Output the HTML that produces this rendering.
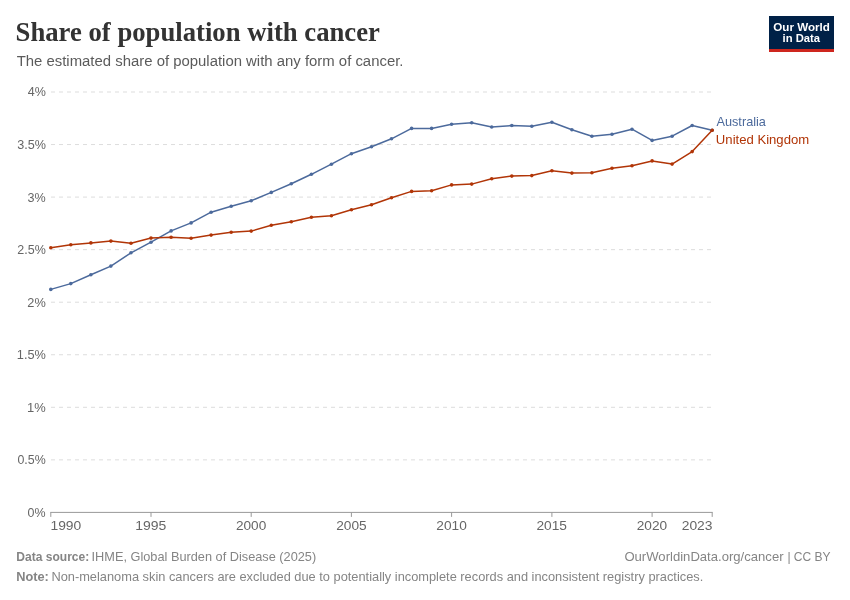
<!DOCTYPE html>
<html lang="en">
<head>
<meta charset="utf-8">
<title>Share of population with cancer</title>
<style>
html,body{margin:0;padding:0;background:#fff;}
body{width:850px;height:600px;overflow:hidden;}
svg{display:block;font-family:"Liberation Sans",Arial,sans-serif;}
.title{font-family:"Liberation Serif","Times New Roman",serif;font-weight:bold;}
</style>
</head>
<body>
<svg width="850" height="600" viewBox="0 0 850 600">
<rect width="850" height="600" fill="#fff"/>
<text id="title" class="title" x="15.59" y="40.6" font-size="27.5" fill="#333" textLength="364.31" lengthAdjust="spacingAndGlyphs">Share of population with cancer</text>
<text id="sub" x="16.67" y="66.4" font-size="14" fill="#5b5b5b" textLength="386.81" lengthAdjust="spacingAndGlyphs">The estimated share of population with any form of cancer.</text>
<rect x="769" y="16" width="65" height="33" fill="#002147"/><rect x="769" y="49" width="65" height="3" fill="#ce261e"/>
<text id="logo1" font-weight="bold" x="773.28" y="30.6" font-size="10.6" fill="#fff" textLength="56.60" lengthAdjust="spacingAndGlyphs">Our World</text>
<text id="logo2" font-weight="bold" x="782.56" y="42.3" font-size="10.6" fill="#fff" textLength="37.56" lengthAdjust="spacingAndGlyphs">in Data</text>
<g stroke="#ddd" stroke-width="1" stroke-dasharray="4,4"><line x1="51" y1="459.85" x2="712.2" y2="459.85"/><line x1="51" y1="407.30" x2="712.2" y2="407.30"/><line x1="51" y1="354.75" x2="712.2" y2="354.75"/><line x1="51" y1="302.20" x2="712.2" y2="302.20"/><line x1="51" y1="249.65" x2="712.2" y2="249.65"/><line x1="51" y1="197.10" x2="712.2" y2="197.10"/><line x1="51" y1="144.55" x2="712.2" y2="144.55"/><line x1="51" y1="92.00" x2="712.2" y2="92.00"/></g>
<text id="y0" x="27.62" y="516.8" font-size="12.2" fill="#666" textLength="18.00" lengthAdjust="spacingAndGlyphs">0%</text>
<text id="y1" x="17.44" y="464.2" font-size="12.2" fill="#666" textLength="28.23" lengthAdjust="spacingAndGlyphs">0.5%</text>
<text id="y2" x="27.11" y="411.7" font-size="12.2" fill="#666" textLength="18.71" lengthAdjust="spacingAndGlyphs">1%</text>
<text id="y3" x="16.81" y="359.1" font-size="12.2" fill="#666" textLength="29.08" lengthAdjust="spacingAndGlyphs">1.5%</text>
<text id="y4" x="27.32" y="306.6" font-size="12.2" fill="#666" textLength="18.46" lengthAdjust="spacingAndGlyphs">2%</text>
<text id="y5" x="17.34" y="254.0" font-size="12.2" fill="#666" textLength="28.48" lengthAdjust="spacingAndGlyphs">2.5%</text>
<text id="y6" x="27.41" y="201.5" font-size="12.2" fill="#666" textLength="18.19" lengthAdjust="spacingAndGlyphs">3%</text>
<text id="y7" x="17.18" y="149.0" font-size="12.2" fill="#666" textLength="28.73" lengthAdjust="spacingAndGlyphs">3.5%</text>
<text id="y8" x="27.75" y="96.4" font-size="12.2" fill="#666" textLength="18.13" lengthAdjust="spacingAndGlyphs">4%</text>
<g stroke="#999" stroke-width="1" fill="none"><line x1="50.3" y1="512.4" x2="712.7" y2="512.4"/><line x1="50.8" y1="512.4" x2="50.8" y2="516.9"/><line x1="151.0" y1="512.4" x2="151.0" y2="516.9"/><line x1="251.2" y1="512.4" x2="251.2" y2="516.9"/><line x1="351.4" y1="512.4" x2="351.4" y2="516.9"/><line x1="451.6" y1="512.4" x2="451.6" y2="516.9"/><line x1="551.9" y1="512.4" x2="551.9" y2="516.9"/><line x1="652.1" y1="512.4" x2="652.1" y2="516.9"/><line x1="712.2" y1="512.4" x2="712.2" y2="516.9"/></g>
<text id="x1990" x="50.48" y="530.4" font-size="12.2" fill="#666" textLength="30.80" lengthAdjust="spacingAndGlyphs">1990</text>
<text id="x1995" x="135.30" y="530.4" font-size="12.2" fill="#666" textLength="31.09" lengthAdjust="spacingAndGlyphs">1995</text>
<text id="x2000" x="235.94" y="530.4" font-size="12.2" fill="#666" textLength="30.30" lengthAdjust="spacingAndGlyphs">2000</text>
<text id="x2005" x="336.21" y="530.4" font-size="12.2" fill="#666" textLength="30.45" lengthAdjust="spacingAndGlyphs">2005</text>
<text id="x2010" x="436.33" y="530.4" font-size="12.2" fill="#666" textLength="30.47" lengthAdjust="spacingAndGlyphs">2010</text>
<text id="x2015" x="536.49" y="530.4" font-size="12.2" fill="#666" textLength="30.53" lengthAdjust="spacingAndGlyphs">2015</text>
<text id="x2020" x="636.73" y="530.4" font-size="12.2" fill="#666" textLength="30.47" lengthAdjust="spacingAndGlyphs">2020</text>
<text id="x2023" x="681.69" y="530.4" font-size="12.2" fill="#666" textLength="30.80" lengthAdjust="spacingAndGlyphs">2023</text>
<polyline points="50.8,289.4 70.8,283.6 90.9,274.8 110.9,266.1 131.0,252.8 151.0,242.2 171.1,230.9 191.1,222.9 211.1,212.2 231.2,206.2 251.2,200.8 271.3,192.4 291.3,183.7 311.4,174.3 331.4,164.2 351.4,153.7 371.5,146.7 391.5,138.8 411.6,128.4 431.6,128.4 451.6,124.2 471.7,122.8 491.7,127.0 511.8,125.5 531.8,126.2 551.9,122.3 571.9,129.7 591.9,136.2 612.0,134.2 632.0,129.2 652.1,140.4 672.1,136.2 692.2,125.5 712.2,130.2" fill="none" stroke="#4C6A9C" stroke-width="1.5" stroke-linejoin="round" stroke-linecap="round"/>
<g fill="#4C6A9C"><circle cx="50.8" cy="289.4" r="1.8"/><circle cx="70.8" cy="283.6" r="1.8"/><circle cx="90.9" cy="274.8" r="1.8"/><circle cx="110.9" cy="266.1" r="1.8"/><circle cx="131.0" cy="252.8" r="1.8"/><circle cx="151.0" cy="242.2" r="1.8"/><circle cx="171.1" cy="230.9" r="1.8"/><circle cx="191.1" cy="222.9" r="1.8"/><circle cx="211.1" cy="212.2" r="1.8"/><circle cx="231.2" cy="206.2" r="1.8"/><circle cx="251.2" cy="200.8" r="1.8"/><circle cx="271.3" cy="192.4" r="1.8"/><circle cx="291.3" cy="183.7" r="1.8"/><circle cx="311.4" cy="174.3" r="1.8"/><circle cx="331.4" cy="164.2" r="1.8"/><circle cx="351.4" cy="153.7" r="1.8"/><circle cx="371.5" cy="146.7" r="1.8"/><circle cx="391.5" cy="138.8" r="1.8"/><circle cx="411.6" cy="128.4" r="1.8"/><circle cx="431.6" cy="128.4" r="1.8"/><circle cx="451.6" cy="124.2" r="1.8"/><circle cx="471.7" cy="122.8" r="1.8"/><circle cx="491.7" cy="127.0" r="1.8"/><circle cx="511.8" cy="125.5" r="1.8"/><circle cx="531.8" cy="126.2" r="1.8"/><circle cx="551.9" cy="122.3" r="1.8"/><circle cx="571.9" cy="129.7" r="1.8"/><circle cx="591.9" cy="136.2" r="1.8"/><circle cx="612.0" cy="134.2" r="1.8"/><circle cx="632.0" cy="129.2" r="1.8"/><circle cx="652.1" cy="140.4" r="1.8"/><circle cx="672.1" cy="136.2" r="1.8"/><circle cx="692.2" cy="125.5" r="1.8"/><circle cx="712.2" cy="130.2" r="1.8"/></g>
<polyline points="50.8,247.8 70.8,244.7 90.9,242.9 110.9,241.1 131.0,243.2 151.0,238.1 171.1,237.3 191.1,238.3 211.1,235.1 231.2,232.2 251.2,231.1 271.3,225.2 291.3,221.7 311.4,217.2 331.4,215.8 351.4,209.8 371.5,204.8 391.5,197.7 411.6,191.4 431.6,190.7 451.6,184.9 471.7,184.1 491.7,178.8 511.8,176.1 531.8,175.6 551.9,170.7 571.9,173.1 591.9,172.8 612.0,168.2 632.0,165.8 652.1,160.9 672.1,164.1 692.2,151.6 712.2,130.3" fill="none" stroke="#B13507" stroke-width="1.5" stroke-linejoin="round" stroke-linecap="round"/>
<g fill="#B13507"><circle cx="50.8" cy="247.8" r="1.8"/><circle cx="70.8" cy="244.7" r="1.8"/><circle cx="90.9" cy="242.9" r="1.8"/><circle cx="110.9" cy="241.1" r="1.8"/><circle cx="131.0" cy="243.2" r="1.8"/><circle cx="151.0" cy="238.1" r="1.8"/><circle cx="171.1" cy="237.3" r="1.8"/><circle cx="191.1" cy="238.3" r="1.8"/><circle cx="211.1" cy="235.1" r="1.8"/><circle cx="231.2" cy="232.2" r="1.8"/><circle cx="251.2" cy="231.1" r="1.8"/><circle cx="271.3" cy="225.2" r="1.8"/><circle cx="291.3" cy="221.7" r="1.8"/><circle cx="311.4" cy="217.2" r="1.8"/><circle cx="331.4" cy="215.8" r="1.8"/><circle cx="351.4" cy="209.8" r="1.8"/><circle cx="371.5" cy="204.8" r="1.8"/><circle cx="391.5" cy="197.7" r="1.8"/><circle cx="411.6" cy="191.4" r="1.8"/><circle cx="431.6" cy="190.7" r="1.8"/><circle cx="451.6" cy="184.9" r="1.8"/><circle cx="471.7" cy="184.1" r="1.8"/><circle cx="491.7" cy="178.8" r="1.8"/><circle cx="511.8" cy="176.1" r="1.8"/><circle cx="531.8" cy="175.6" r="1.8"/><circle cx="551.9" cy="170.7" r="1.8"/><circle cx="571.9" cy="173.1" r="1.8"/><circle cx="591.9" cy="172.8" r="1.8"/><circle cx="612.0" cy="168.2" r="1.8"/><circle cx="632.0" cy="165.8" r="1.8"/><circle cx="652.1" cy="160.9" r="1.8"/><circle cx="672.1" cy="164.1" r="1.8"/><circle cx="692.2" cy="151.6" r="1.8"/><circle cx="712.2" cy="130.3" r="1.8"/></g>
<text id="lab1" x="716.44" y="126.3" font-size="12.4" fill="#4C6A9C" textLength="49.51" lengthAdjust="spacingAndGlyphs">Australia</text>
<text id="lab2" x="715.89" y="144.2" font-size="12.4" fill="#B13507" textLength="93.30" lengthAdjust="spacingAndGlyphs">United Kingdom</text>
<text id="f1" font-weight="bold" x="16.25" y="560.8" font-size="12.2" fill="#858585" textLength="72.99" lengthAdjust="spacingAndGlyphs">Data source:</text>
<text id="f2" x="91.52" y="560.8" font-size="12.2" fill="#858585" textLength="224.70" lengthAdjust="spacingAndGlyphs">IHME, Global Burden of Disease (2025)</text>
<text id="f3" x="624.40" y="560.8" font-size="12.2" fill="#858585" textLength="159.17" lengthAdjust="spacingAndGlyphs">OurWorldinData.org/cancer</text>
<text id="f3b" x="787.39" y="560.8" font-size="12.2" fill="#858585" textLength="43.25" lengthAdjust="spacingAndGlyphs">| CC BY</text>
<text id="f4" font-weight="bold" x="16.18" y="581.0" font-size="12.2" fill="#858585" textLength="32.65" lengthAdjust="spacingAndGlyphs">Note:</text>
<text id="f5" x="51.42" y="581.0" font-size="12.2" fill="#858585" textLength="651.85" lengthAdjust="spacingAndGlyphs">Non-melanoma skin cancers are excluded due to potentially incomplete records and inconsistent registry practices.</text>
</svg>
</body>
</html>
